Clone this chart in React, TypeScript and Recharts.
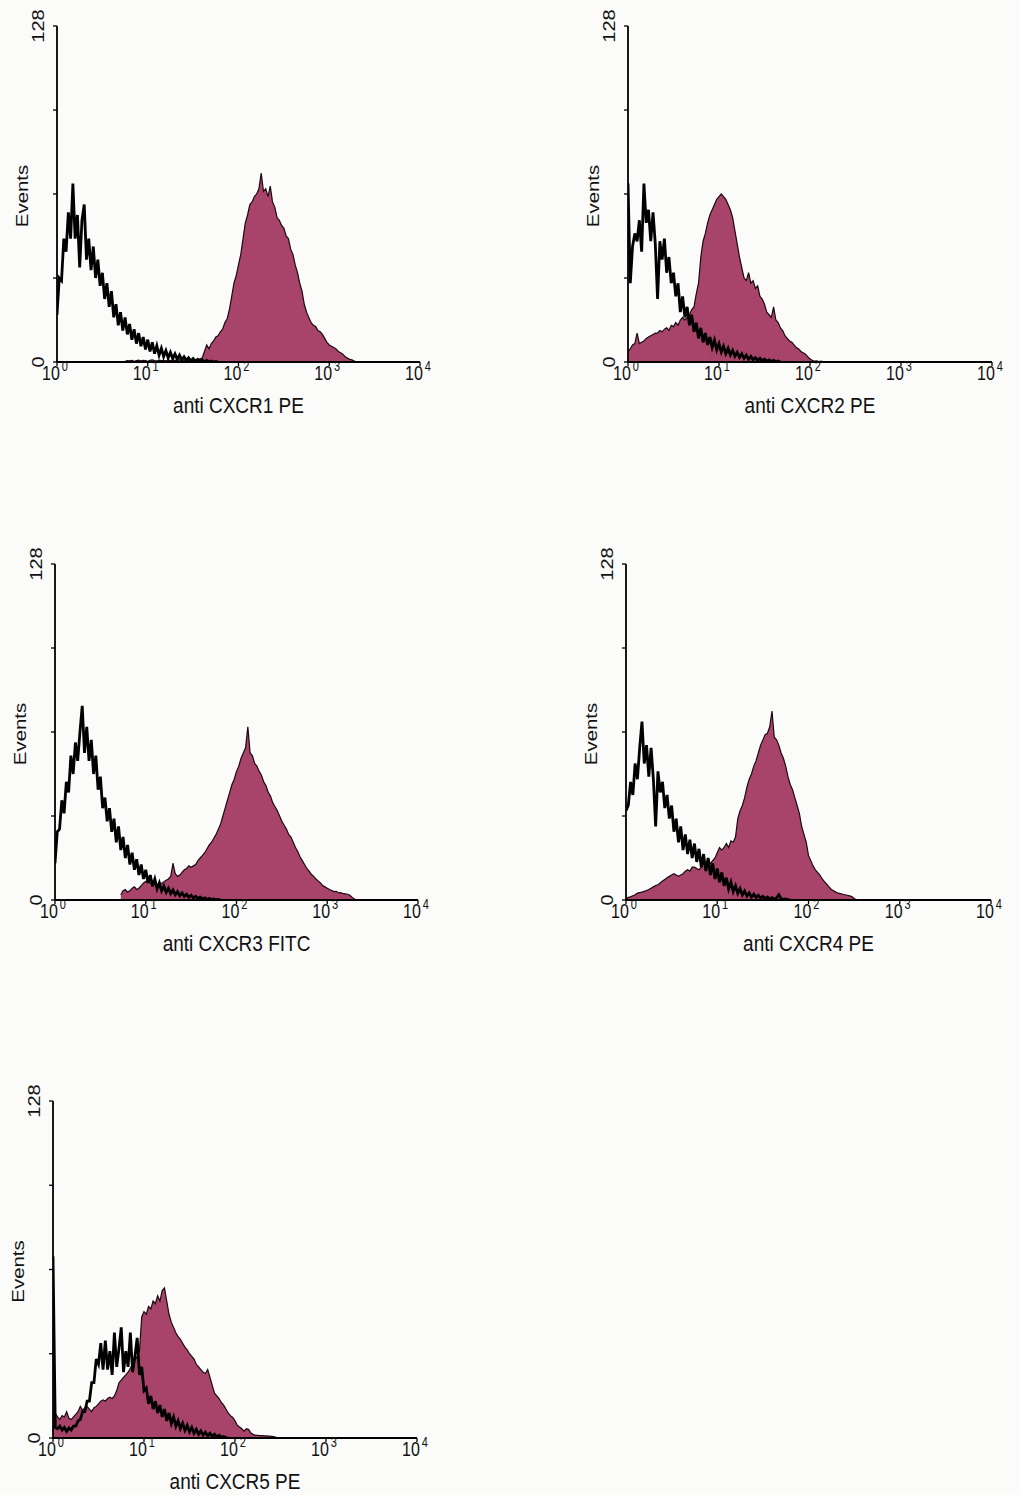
import React from 'react';
import { ComposedChart, Area, Line, XAxis, YAxis, Label } from 'recharts';

// Histogram channel width, in decades of fluorescence intensity.
const BIN = 0.025;
const DECADE_TICKS = [0, 1, 2, 3, 4];
const EVENT_TICKS = [0, 32, 64, 96, 128];
const LABELLED_EVENTS = [0, 128];
const MAX_EVENTS = 128;

// Isotype control (open black trace) and receptor stain (filled), counts per channel.
const cxcr1IsoStart = 0;
const cxcr1Iso = [18, 32, 31, 47, 42, 57, 47, 68, 47, 56, 36, 54, 60, 39, 47, 35, 44, 32, 39, 29, 34, 24, 30, 21, 27, 17, 22, 14, 19, 12, 17, 10.5, 14.5, 8.5, 12.5, 7, 11, 6, 9.5, 4.8, 8.5, 4, 7.5, 3.2, 6.2, 2.6, 5.2, 2.1, 4.3, 1.6, 3.7, 1.3, 3.1, 1, 2.6, 0.8, 2, 0.6, 1.6, 0.4, 1.3, 0.3, 1, 0.2, 0.8, 0.1, 0.6, 0.1, 0.4, 0, 0.2, 0];
const cxcr1StainStart = 0.75;
const cxcr1Stain = [0.3, 0.5, 0.4, 0.6, 0.3, 0.5, 0.7, 0.4, 0.6, 0.5, 0.3, 0.6, 0.8, 0.5, 0.4, 0.7, 0.5, 0.6, 0.4, 0.8, 0.5, 0.7, 0.6, 0.4, 0.9, 0.6, 0.8, 0.5, 0.7, 1, 0.6, 0.9, 0.8, 1.2, 1.5, 4, 6.5, 5, 7, 8, 9.5, 10, 11.5, 12.5, 15, 16.5, 20, 25, 30, 33, 37, 41, 47, 53, 56, 60, 61, 63, 64, 66, 72, 65, 66, 63, 67, 61, 59, 55, 54, 52, 51, 48, 47, 43, 41, 37, 34, 30, 27, 22, 19, 17, 15, 14, 13.5, 12, 11.5, 10.5, 9, 7.5, 6.5, 6, 5.5, 5, 4, 3.5, 3, 2, 1.5, 1, 0.8, 0.4, 0];

const cxcr2IsoStart = 0;
const cxcr2Iso = [68, 30, 44, 49, 46, 54, 42, 68, 53, 58, 46, 57, 45, 24, 46, 39, 47, 34, 40, 30, 34, 25, 30, 19, 25, 17, 21, 14, 18, 11.5, 15, 9, 13, 7.5, 11, 6.5, 9.5, 5.5, 8.3, 4.6, 7, 3.8, 6, 3.2, 5.2, 2.7, 4.4, 2.2, 3.7, 1.8, 3.1, 1.4, 2.6, 1, 2.1, 0.8, 1.7, 0.6, 1.4, 0.4, 1.1, 0.3, 0.8, 0.2, 0.6, 0.1, 0.4, 0];
const cxcr2StainStart = 0;
const cxcr2Stain = [4, 5, 6.5, 7, 11, 7, 7.5, 8, 9, 9.5, 10, 10.5, 11, 11, 12, 11.5, 12.5, 13, 12, 14, 13.5, 15, 14, 16, 17, 16, 17, 18, 20, 21, 26, 30, 40, 46, 49, 53, 56, 58, 60, 62, 63, 64, 63, 62, 60, 58, 55, 50, 45, 40, 36, 32, 31, 34, 30, 31, 28, 29, 25, 24, 22, 19, 18, 17, 21, 16, 15, 13, 12, 10, 9, 8, 7.5, 6.5, 5.5, 5, 4, 3.5, 3, 2, 1.2, 0.6, 0.3, 0.4, 0.2, 0.3, 0];

const cxcr3IsoStart = 0;
const cxcr3Iso = [14, 26, 27, 38, 33, 45, 41, 55, 48, 60, 53, 64, 74, 56, 66, 53, 61, 48, 55, 42, 47, 35, 39, 30, 35, 26, 31, 22, 28, 19, 24, 16, 21, 13.5, 18, 11.5, 15.5, 9.5, 13.5, 8, 11.5, 6.5, 9.5, 5.2, 8, 4.3, 6.5, 3.5, 5.3, 2.9, 4.5, 2.4, 3.8, 2, 3.2, 1.6, 2.7, 1.3, 2.2, 1, 1.8, 0.8, 1.4, 0.6, 1.1, 0.4, 0.8, 0.3, 0.6, 0.2, 0.4, 0.1, 0.2, 0];
const cxcr3StainStart = 0.725;
const cxcr3Stain = [2, 3.5, 4, 3, 3.5, 4.5, 5, 4, 4.5, 5.5, 6.5, 7, 7.5, 6.5, 6, 6.5, 5.5, 6.5, 6.3, 7, 7.5, 8, 9, 14, 10, 9, 9.5, 10.5, 11.5, 12, 13, 12.5, 13, 13.5, 15, 16, 17, 18, 19.5, 21, 22, 23.5, 25, 27, 29, 32, 35, 38, 41, 44, 46, 49, 51, 54, 56, 58, 66, 56, 55, 52, 51, 49, 47.5, 45, 43.5, 41, 39.5, 37, 35.5, 34, 32, 30, 28.5, 27, 25, 24, 22, 20, 18.5, 16.5, 15, 13.5, 12, 11, 9.8, 9, 8, 7.3, 6.5, 5.5, 5, 4.5, 4, 3.6, 3.2, 3.3, 2.7, 2.8, 2.4, 2.3, 2.2, 1.8, 1, 0.4, 0];

const cxcr4IsoStart = 0;
const cxcr4Iso = [34, 36, 45, 40, 52, 46, 58, 68, 52, 59, 47, 58, 46, 28, 49, 41, 45, 35, 40, 31, 36, 26, 31, 22, 28, 19, 25, 17.5, 23, 16, 21.5, 14.5, 19.5, 12.5, 17.5, 11, 16, 9.5, 14, 8, 12, 6.8, 10.5, 5.4, 8.5, 4.2, 6.8, 3.2, 5.4, 2.5, 4.3, 1.9, 3.4, 1.5, 2.7, 1.1, 2.2, 0.9, 1.8, 0.7, 1.4, 0.5, 1.1, 0.4, 0.9, 0.3, 0.8, 2, 0.5, 0.2, 0.4, 0.1, 0];
const cxcr4StainStart = 0;
const cxcr4Stain = [0.5, 1, 1.2, 1.6, 2, 2.6, 2.8, 3, 3.3, 3.6, 4, 4.5, 5, 5.5, 5.8, 6.5, 7.2, 7.8, 8.5, 9, 9.5, 10, 9.5, 9, 9.5, 10, 11, 11.5, 11, 12.5, 12.5, 12, 11.5, 12.5, 14, 13.5, 13.5, 14, 15, 16, 18, 20, 19, 20, 21.5, 20, 22.5, 22, 24, 31, 34, 36, 39, 43, 46, 48, 51, 53, 56, 59, 61, 63, 63.5, 66, 72, 62, 61, 59, 56, 54, 51, 47, 44, 42, 39, 36, 33, 28, 25, 22, 17, 15, 13, 11.5, 10.5, 9.5, 8, 7, 6, 5, 4, 3.5, 3, 2.6, 2.4, 2.2, 2, 1.8, 1.6, 1.3, 0.6, 0.2, 0];

const cxcr5IsoStart = 0;
const cxcr5Iso = [69, 4, 3.5, 4.5, 3, 4, 2.5, 3.8, 3, 4.5, 4.5, 6.5, 7, 10, 10, 14, 14, 21, 21, 30, 28, 36, 26, 37, 26, 33, 24, 40, 27, 34, 42, 25, 33, 27, 40, 25, 31, 38, 24, 27, 18, 19, 13, 16, 11, 14, 9.5, 12.5, 8, 11, 6.5, 9.5, 5.5, 8, 4.5, 6.6, 3.6, 5.6, 2.9, 4.8, 2.3, 4, 1.8, 3.3, 1.4, 2.7, 1.1, 2.2, 0.8, 1.8, 0.6, 1.4, 0.4, 1, 0.3, 0.6, 0.1, 0];
const cxcr5StainStart = 0;
const cxcr5Stain = [9, 9.5, 8, 7, 8.5, 8, 10, 7.5, 7, 8, 9, 10, 12, 10.5, 11.5, 12, 11, 10, 11.5, 12, 13, 14, 14.5, 14, 15, 15.5, 15, 16, 18, 21, 22, 23, 24, 25, 26.5, 28, 29.5, 31, 33, 46, 48, 47, 50, 49, 52, 51, 54, 52, 56, 57, 52, 47, 44, 42, 40, 38.5, 37.5, 36, 34.5, 33.5, 32, 31, 30, 28, 27, 26, 25, 24.5, 26, 23, 20, 17, 16, 15, 13.5, 12.5, 11, 9.5, 8.5, 7.8, 6.5, 4.8, 4.2, 3.5, 2.6, 3.5, 3.2, 1.9, 1.3, 1.1, 1, 0.9, 0.9, 0.8, 0.8, 0.7, 0.6, 0.5, 0.3, 0];

const markers = ['anti CXCR1 PE', 'anti CXCR2 PE', 'anti CXCR3 FITC', 'anti CXCR4 PE', 'anti CXCR5 PE'];

// Plot frames (left, top, width, height) of each histogram on the page.
const FRAMES = [
  { left: 57, top: 26, width: 363, height: 336 },
  { left: 628, top: 26, width: 364, height: 336 },
  { left: 55, top: 564, width: 363, height: 336 },
  { left: 626, top: 564, width: 365, height: 336 },
  { left: 53, top: 1101, width: 364, height: 337 },
];

const FONT = '"Liberation Sans", Arial, Helvetica, sans-serif';
const INK = '#111';
const FILL = '#a8436a';
const ML = 70;
const MT = 30;
const MR = 16;
const MB = 70;

const toPoints = (start: number, counts: number[]) =>
  counts.map((c, i) => ({ x: start + i * BIN, y: c }));

const panels = [
  { iso: toPoints(cxcr1IsoStart, cxcr1Iso), stain: toPoints(cxcr1StainStart, cxcr1Stain) },
  { iso: toPoints(cxcr2IsoStart, cxcr2Iso), stain: toPoints(cxcr2StainStart, cxcr2Stain) },
  { iso: toPoints(cxcr3IsoStart, cxcr3Iso), stain: toPoints(cxcr3StainStart, cxcr3Stain) },
  { iso: toPoints(cxcr4IsoStart, cxcr4Iso), stain: toPoints(cxcr4StainStart, cxcr4Stain) },
  { iso: toPoints(cxcr5IsoStart, cxcr5Iso), stain: toPoints(cxcr5StainStart, cxcr5Stain) },
];

const DecadeTick = (props: any) => {
  const { x, y, payload } = props;
  return (
    <g transform={`translate(${x - 2},${y + 12}) scale(1,1.25)`}>
      <text textAnchor="middle" fontFamily={FONT} fontSize={16} fill={INK}>
        10
        <tspan dx={2} dy={-7} fontSize={11}>{payload.value}</tspan>
      </text>
    </g>
  );
};

const EventTick = (props: any) => {
  const { x, y, payload } = props;
  if (!LABELLED_EVENTS.includes(payload.value)) return null;
  return (
    <g transform={`translate(${x - 12},${y}) scale(1,1.25) rotate(-90)`}>
      <text textAnchor="middle" dominantBaseline="central" fontFamily={FONT} fontSize={16} fill={INK}>
        {payload.value}
      </text>
    </g>
  );
};

const XTitle = (text: string) => (props: any) => {
  const vb = props.viewBox;
  const cx = vb.x + vb.width / 2;
  return (
    <g transform={`translate(${cx},${vb.y + 51}) scale(1,1.2)`}>
      <text textAnchor="middle" fontFamily={FONT} fontSize={19} fill={INK}>
        {text}
      </text>
    </g>
  );
};

const YTitle = (props: any) => {
  const vb = props.viewBox;
  const cx = vb.x + vb.width - 35;
  const cy = vb.y + vb.height / 2 + 2;
  return (
    <g transform={`translate(${cx},${cy}) scale(1,1.2) rotate(-90)`}>
      <text textAnchor="middle" dominantBaseline="central" fontFamily={FONT} fontSize={17} fill={INK}>
        Events
      </text>
    </g>
  );
};

const Histogram = ({ index }: { index: number }) => {
  const f = FRAMES[index];
  const p = panels[index];
  return (
    <div style={{ position: 'absolute', left: f.left - ML, top: f.top - MT }}>
      <ComposedChart
        width={ML + f.width + MR}
        height={MT + f.height + MB}
        margin={{ top: MT, right: MR, bottom: 0, left: 0 }}
      >
        <XAxis
          type="number"
          dataKey="x"
          domain={[0, 4]}
          ticks={DECADE_TICKS}
          interval={0}
          allowDataOverflow
          height={MB}
          tickSize={4}
          axisLine={{ stroke: '#000', strokeWidth: 1.8 }}
          tickLine={{ stroke: '#000', strokeWidth: 1.3 }}
          tick={<DecadeTick />}
        >
          <Label content={XTitle(markers[index])} />
        </XAxis>
        <YAxis
          type="number"
          domain={[0, MAX_EVENTS]}
          ticks={EVENT_TICKS}
          interval={0}
          allowDataOverflow
          width={ML}
          tickSize={4}
          axisLine={{ stroke: '#000', strokeWidth: 1.8 }}
          tickLine={{ stroke: '#000', strokeWidth: 1.3 }}
          tick={<EventTick />}
        >
          <Label content={YTitle} />
        </YAxis>
        <Area
          data={p.stain}
          dataKey="y"
          type="linear"
          fill={FILL}
          fillOpacity={1}
          stroke="#1a0a10"
          strokeWidth={1.2}
          dot={false}
          activeDot={false}
          isAnimationActive={false}
        />
        <Line
          data={p.iso}
          dataKey="y"
          type="linear"
          stroke="#000"
          strokeWidth={2.8}
          strokeLinejoin="miter"
          dot={false}
          activeDot={false}
          isAnimationActive={false}
        />
      </ComposedChart>
    </div>
  );
};

export default function App() {
  return (
    <div
      style={{
        position: 'absolute',
        left: 0,
        top: 0,
        width: 1020,
        height: 1495,
        background: '#fbfbfa',
        overflow: 'hidden',
      }}
    >
      {FRAMES.map((_, i) => (
        <Histogram key={i} index={i} />
      ))}
    </div>
  );
}
